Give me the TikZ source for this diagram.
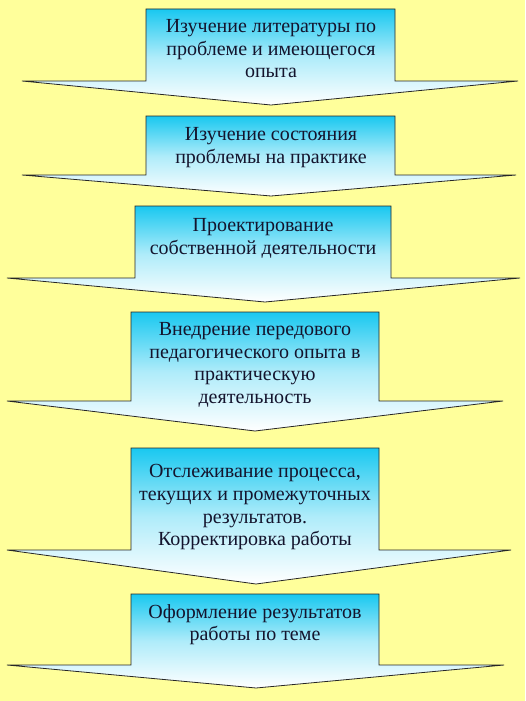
\documentclass[tikz,border=0pt]{standalone}
\usepackage{fontspec}
\setmainfont{Liberation Serif}
\usetikzlibrary{positioning}
\definecolor{bgyellow}{RGB}{255,255,155}
\definecolor{stepcyan}{RGB}{25,200,240}
\definecolor{steptext}{RGB}{20,20,45}

\begin{document}
\begin{tikzpicture}[x=1pt, y=-1pt,
    step arrow/.style={draw=black!85, line width=0.8pt, top color=stepcyan, bottom color=white, middle color=stepcyan!35!white},
    step text/.style={align=center, text=steptext, inner sep=0pt, anchor=north, font=\fontsize{20}{22.8}\selectfont}]
    \fill[bgyellow] (0,0) rectangle (525,701);
    \useasboundingbox (0,0) rectangle (525,701);

    % arrows
    \draw[step arrow] (146,9) -- (395,9) -- (395,81) -- (518,81) -- (271,105) -- (22,81) -- (146,81) -- cycle;
    \draw[step arrow] (146,116) -- (395,116) -- (395,175) -- (516,175) -- (271,196) -- (22,175) -- (146,175) -- cycle;
    \draw[step arrow] (135,206) -- (391,206) -- (391,278) -- (520,278) -- (265,302) -- (7,278) -- (135,278) -- cycle;
    \draw[step arrow] (131,312) -- (379,312) -- (379,401) -- (503,401) -- (255,431) -- (7,401) -- (131,401) -- cycle;
    \draw[step arrow] (131,448) -- (379,448) -- (379,550) -- (511,550) -- (256,584) -- (7,550) -- (131,550) -- cycle;
    \draw[step arrow] (131,594) -- (379,594) -- (379,665) -- (504,665) -- (256,688) -- (7,665) -- (131,665) -- cycle;

    % texts
    \node[step text] (lit) at (271,19) {Изучение литературы по\\проблеме и имеющегося\\опыта};
    \node[step text] (state) at (271,127) {Изучение состояния\\проблемы на практике};
    \node[step text] (design) at (263,218) {Проектирование\\собственной деятельности};
    \node[step text] (impl) at (255,322) {Внедрение передового\\педагогического опыта в\\практическую\\деятельность};
    \node[step text] (track) at (255,464) {Отслеживание процесса,\\текущих и промежуточных\\результатов.\\Корректировка работы};
    \node[step text] (report) at (255,604) {Оформление результатов\\работы по теме};
\end{tikzpicture}
\end{document}
